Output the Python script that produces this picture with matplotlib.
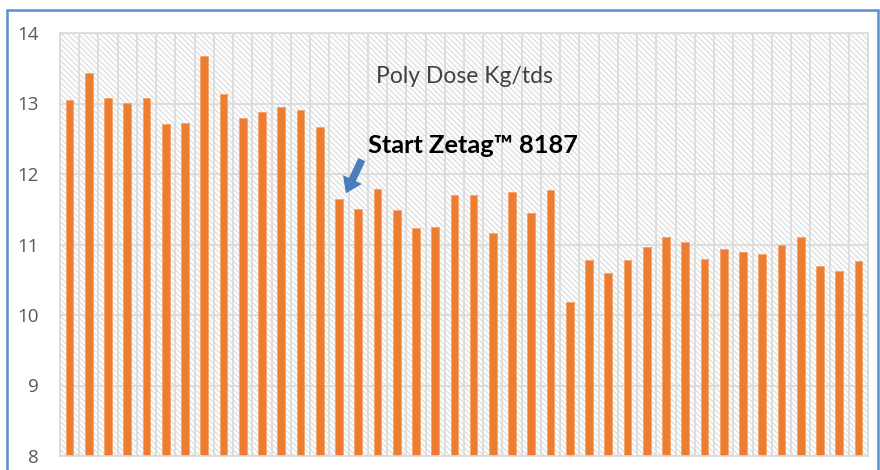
import matplotlib.pyplot as plt
from matplotlib.patches import Rectangle
import numpy as np

# poly dose per day, Kg/tds
dose = [13.05, 13.43, 13.08, 13.01, 13.08, 12.71, 12.73, 13.68, 13.14, 12.79,
        12.88, 12.95, 12.91, 12.66, 11.64, 11.51, 11.79, 11.49, 11.23, 11.25,
        11.70, 11.70, 11.16, 11.75, 11.44, 11.77, 10.19, 10.78, 10.60, 10.78,
        10.97, 11.10, 11.04, 10.80, 10.93, 10.89, 10.86, 11.00, 11.11, 10.69,
        10.62, 10.76]
yticks = [8, 9, 10, 11, 12, 13, 14]
title = 'Poly Dose Kg/tds'
note = 'Start Zetag\u2122 8187'
start_idx = 14  # first bar with the new polymer

bar_color = '#ED7D31'
grid_color = '#d9d9d9'

plt.rcParams['hatch.linewidth'] = 1.0

fig = plt.figure(figsize=(8.8, 4.7), dpi=100)
ax = fig.add_axes([60 / 880, 1 - 456 / 470, 808 / 880, 423 / 470])

x = np.arange(len(dose))

# hatched plot area
ax.add_patch(Rectangle((0, 0), 1, 1, transform=ax.transAxes, facecolor='white',
                       edgecolor='#e0e0e0', hatch='\\' * 6, lw=0, zorder=0.1))

ax.bar(x, np.array(dose) - 8, bottom=8, width=0.4, color=bar_color,
       edgecolor='#f4a56e', linewidth=0.6, zorder=2)

ax.set_xlim(-0.5, len(dose) - 0.5)
ax.set_ylim(8, 14)
ax.set_yticks(yticks)
ax.set_yticklabels([str(v) for v in yticks], fontsize=13.5, color='#595959',
                   family='Open Sans')
ax.set_xticks([])
ax.set_xticks(np.arange(len(dose) + 1) - 0.5, minor=True)
ax.tick_params(axis='both', which='both', length=0, pad=15)
ax.grid(axis='y', color=grid_color, lw=1.2, zorder=0.5)
ax.grid(axis='x', which='minor', color=grid_color, lw=1.2, zorder=0.5)
ax.set_axisbelow(True)
for s in ax.spines.values():
    s.set_color(grid_color)
    s.set_linewidth(1.2)

ax.text(0.5, 0.898, title, transform=ax.transAxes, ha='center', va='center',
        fontsize=16.5, color='#404040', family='Lato')

ax.text(start_idx + 1.5, 12.30, note, ha='left', va='baseline',
        fontsize=18.3, fontweight='bold', color='black', family='Lato')
# block arrow pointing at the first Zetag bar
ax.annotate('', xy=(start_idx + 0.3, dose[start_idx] + 0.05),
            xytext=(start_idx + 1.25, 12.24),
            arrowprops=dict(arrowstyle='simple,head_length=1.1,head_width=1.5,tail_width=0.55',
                            color='#4a7ebb', lw=0), zorder=3)

# blue chart frame
fig.add_artist(Rectangle((6.5 / 880, -0.05), 871 / 880, 1.05 - 10 / 470,
                         transform=fig.transFigure, fill=False,
                         edgecolor='#5b8fd0', lw=1.8))

fig.savefig('out.png', dpi=100)
